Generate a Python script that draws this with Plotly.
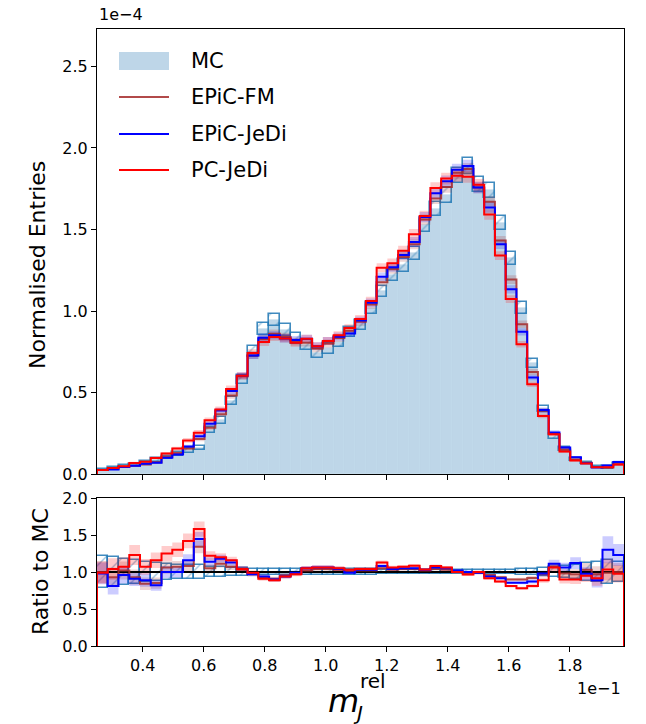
import plotly.graph_objects as go

# ---------------- data (values in units shown on the axes) ----------------
x_lo, x_hi, n_bins = 0.25, 1.978, 49          # x in units of 1e-1

mc = [0.025, 0.035, 0.045, 0.055, 0.07, 0.085, 0.10, 0.12, 0.145, 0.16,
      0.27, 0.33, 0.45, 0.58, 0.75, 0.89, 0.945, 0.885, 0.83, 0.79,
      0.74, 0.77, 0.81, 0.87, 0.915, 1.02, 1.12, 1.22, 1.28, 1.355,
      1.53, 1.625, 1.71, 1.83, 1.89, 1.775, 1.74, 1.54, 1.325, 1.02,
      0.68, 0.40, 0.23, 0.153, 0.092, 0.067, 0.045, 0.04, 0.06]

mc_rel_err = [0.21, 0.20, 0.17, 0.16, 0.13, 0.12, 0.11, 0.10, 0.095, 0.09,
              0.07, 0.065, 0.055, 0.05, 0.045, 0.04, 0.04, 0.04, 0.04, 0.04,
              0.04, 0.04, 0.04, 0.035, 0.035, 0.035, 0.03, 0.03, 0.03, 0.03,
              0.028, 0.027, 0.027, 0.026, 0.025, 0.026, 0.026, 0.028, 0.03, 0.035,
              0.04, 0.05, 0.065, 0.08, 0.10, 0.12, 0.14, 0.16, 0.13]

ratio_epic_fm = [1.0, 0.93, 1.02, 0.93, 0.84, 0.85, 1.06, 1.07, 1.08, 1.34,
                 1.05, 1.11, 1.07, 1.03, 0.97, 0.93, 0.91, 0.95, 0.98, 1.02,
                 1.04, 1.04, 1.03, 1.01, 1.02, 1.02, 1.05, 1.03, 1.04, 1.04,
                 1.02, 1.04, 1.03, 1.01, 0.99, 0.99, 0.96, 0.93, 0.90, 0.90,
                 0.92, 0.97, 1.07, 0.98, 0.97, 1.03, 0.97, 0.99, 1.0]

ratio_epic_jedi = [0.98, 0.81, 0.96, 0.91, 0.89, 0.82, 1.0, 1.0, 1.16, 1.445,
                   1.14, 1.18, 1.13, 1.04, 0.97, 0.94, 0.90, 0.94, 0.99, 1.05,
                   1.06, 1.06, 1.04, 0.99, 1.03, 1.03, 1.08, 1.04, 1.05, 1.05,
                   1.03, 1.06, 1.05, 1.02, 1.0, 0.99, 0.94, 0.915, 0.855, 0.855,
                   0.87, 0.98, 1.11, 1.06, 1.12, 0.975, 0.89, 1.30, 1.23]

ratio_pc_jedi = [0.99, 1.04, 1.07, 1.23, 1.07, 1.16, 1.25, 1.30, 1.42, 1.58,
                 1.22, 1.20, 1.16, 1.04, 0.99, 0.91, 0.89, 0.94, 0.97, 1.05,
                 1.06, 1.06, 1.05, 1.03, 1.04, 1.04, 1.13, 1.06, 1.07, 1.085,
                 1.035, 1.08, 1.06, 1.0, 0.965, 1.0, 0.915, 0.87, 0.81, 0.78,
                 0.81, 0.89, 1.06, 0.90, 0.90, 0.95, 0.915, 1.035, 0.975]

gen_rel_err = [0.15, 0.14, 0.12, 0.11, 0.10, 0.09, 0.08, 0.075, 0.07, 0.065,
               0.05, 0.045, 0.04, 0.035, 0.03, 0.03, 0.03, 0.03, 0.03, 0.03,
               0.03, 0.03, 0.03, 0.025, 0.025, 0.025, 0.022, 0.022, 0.022, 0.022,
               0.02, 0.02, 0.02, 0.02, 0.02, 0.02, 0.02, 0.02, 0.022, 0.025,
               0.03, 0.04, 0.05, 0.06, 0.07, 0.09, 0.11, 0.14, 0.12]

models = [("EPiC-FM", ratio_epic_fm, "rgba(165,42,42,0.85)", "rgba(165,42,42,0.2)"),
          ("EPiC-JeDi", ratio_epic_jedi, "#0000ff", "rgba(0,0,255,0.2)"),
          ("PC-JeDi", ratio_pc_jedi, "#ff0000", "rgba(255,0,0,0.2)")]

x_ticks = [0.4, 0.6, 0.8, 1.0, 1.2, 1.4, 1.6, 1.8]
y_ticks = [0.0, 0.5, 1.0, 1.5, 2.0, 2.5]
r_ticks = [0.0, 0.5, 1.0, 1.5, 2.0]

# ---------------- geometry helpers ----------------
W, H = 646, 724
ML, MR, MT, MB = 97, 22, 29, 78
PW, PH = W - ML - MR, H - MT - MB


def px(xp):
    return (xp - ML) / PW


def py(yp):
    return (H - MB - yp) / PH


bw = (x_hi - x_lo) / n_bins
edges = [x_lo + i * bw for i in range(n_bins + 1)]
centers = [x_lo + (i + 0.5) * bw for i in range(n_bins)]


def step_closed(vals):
    xs = [edges[0]] + edges + [edges[-1]]
    ys = [0] + list(vals) + [vals[-1], 0]
    return xs, ys


def step_open(vals):
    return edges, list(vals) + [vals[-1]]


fig = go.Figure()
FONT = "DejaVu Sans"
HATCH_C = "rgba(31,119,180,0.85)"
TICK_SIZE = 16

# ---- main panel ----
fig.add_trace(go.Bar(x=centers, y=mc, width=bw, xaxis="x", yaxis="y",
                     marker=dict(color="#bed6e8", line=dict(color="#bed6e8", width=0.6)),
                     showlegend=False, hoverinfo="skip"))
mc_err = [m * e for m, e in zip(mc, mc_rel_err)]
fig.add_trace(go.Bar(x=centers, y=[2 * e for e in mc_err],
                     base=[m - e for m, e in zip(mc, mc_err)], width=bw,
                     xaxis="x", yaxis="y",
                     marker=dict(color="rgba(0,0,0,0)", line=dict(color=HATCH_C, width=1.6),
                                 pattern=dict(shape="/", fgcolor=HATCH_C, bgcolor="rgba(0,0,0,0)",
                                              size=12, solidity=0.12, fillmode="overlay")),
                     showlegend=False, hoverinfo="skip"))

for name, ratio, lc, bc in models:
    vals = [m * r for m, r in zip(mc, ratio)]
    lo = [v * (1 - e) for v, e in zip(vals, gen_rel_err)]
    hi = [v * (1 + e) for v, e in zip(vals, gen_rel_err)]
    xs, ys = step_open(lo)
    fig.add_trace(go.Scatter(x=xs, y=ys, mode="lines", line=dict(width=0, shape="hv"),
                             xaxis="x", yaxis="y", showlegend=False, hoverinfo="skip"))
    xs, ys = step_open(hi)
    fig.add_trace(go.Scatter(x=xs, y=ys, mode="lines", line=dict(width=0, shape="hv"),
                             fill="tonexty", fillcolor=bc,
                             xaxis="x", yaxis="y", showlegend=False, hoverinfo="skip"))

for name, ratio, lc, bc in models:
    vals = [m * r for m, r in zip(mc, ratio)]
    xs, ys = step_closed(vals)
    fig.add_trace(go.Scatter(x=xs, y=ys, mode="lines", line=dict(color=lc, width=2, shape="hv"),
                             xaxis="x", yaxis="y", name=name, showlegend=False))

# ---- ratio panel ----
fig.add_trace(go.Bar(x=centers, y=[2 * e for e in mc_rel_err],
                     base=[1 - e for e in mc_rel_err], width=bw,
                     xaxis="x2", yaxis="y2",
                     marker=dict(color="rgba(0,0,0,0)", line=dict(color=HATCH_C, width=1.6),
                                 pattern=dict(shape="/", fgcolor=HATCH_C, bgcolor="rgba(0,0,0,0)",
                                              size=12, solidity=0.12, fillmode="overlay")),
                     showlegend=False, hoverinfo="skip"))

for name, ratio, lc, bc in models:
    lo = [r * (1 - e) for r, e in zip(ratio, gen_rel_err)]
    hi = [r * (1 + e) for r, e in zip(ratio, gen_rel_err)]
    xs, ys = step_open(lo)
    fig.add_trace(go.Scatter(x=xs, y=ys, mode="lines", line=dict(width=0, shape="hv"),
                             xaxis="x2", yaxis="y2", showlegend=False, hoverinfo="skip"))
    xs, ys = step_open(hi)
    fig.add_trace(go.Scatter(x=xs, y=ys, mode="lines", line=dict(width=0, shape="hv"),
                             fill="tonexty", fillcolor=bc,
                             xaxis="x2", yaxis="y2", showlegend=False, hoverinfo="skip"))

fig.add_trace(go.Scatter(x=[x_lo, x_hi], y=[1, 1], mode="lines",
                         line=dict(color="black", width=2), xaxis="x2", yaxis="y2",
                         showlegend=False, hoverinfo="skip"))

for name, ratio, lc, bc in models:
    xs, ys = step_closed(ratio)
    fig.add_trace(go.Scatter(x=xs, y=ys, mode="lines", line=dict(color=lc, width=2, shape="hv"),
                             xaxis="x2", yaxis="y2", showlegend=False))

# ---------------- axes ----------------
ax_common = dict(showline=True, linecolor="black", linewidth=1.2, mirror=True,
                 ticks="outside", ticklen=5, tickwidth=1.2, tickcolor="black",
                 showgrid=False, zeroline=False,
                 tickfont=dict(family=FONT, size=TICK_SIZE, color="black"))

main_bottom = py(474)
ratio_top = py(498)

fig.update_layout(
    width=W, height=H,
    margin=dict(l=ML, r=MR, t=MT, b=MB),
    paper_bgcolor="white", plot_bgcolor="white",
    barmode="overlay", bargap=0,
    showlegend=False,
    xaxis=dict(domain=[0, 1], anchor="y", range=[x_lo, x_hi], tickvals=x_ticks,
               showticklabels=False, **ax_common),
    yaxis=dict(domain=[main_bottom, 1], anchor="x", range=[0, 2.73], tickvals=y_ticks,
               tickformat=".1f", **ax_common),
    xaxis2=dict(domain=[0, 1], anchor="y2", range=[x_lo, x_hi], tickvals=x_ticks,
                tickformat=".1f", **ax_common),
    yaxis2=dict(domain=[0, ratio_top], anchor="x2", range=[0, 2.0], tickvals=r_ticks,
                tickformat=".1f", **ax_common),
)

# ---------------- annotations / texts ----------------
ann = []


def add_text(text, xp, yp, size, xanchor="center", yanchor="middle", angle=0):
    ann.append(dict(text=text, x=px(xp), y=py(yp), xref="paper", yref="paper",
                    xanchor=xanchor, yanchor=yanchor, showarrow=False, textangle=angle,
                    font=dict(family=FONT, size=size, color="black")))


add_text("1e\u22124", 97, 15, TICK_SIZE, xanchor="left")
add_text("1e\u22121", 623, 689, TICK_SIZE, xanchor="right")
add_text("Normalised Entries", 37, 265, 22, angle=-90)
add_text("Ratio to MC", 40, 572, 22, angle=-90)
add_text("<i>m</i>", 343, 701, 32)
add_text("rel", 373, 681, 20)
add_text("<i>J</i>", 358, 713, 20)

# legend (manual)
shapes = []
shapes.append(dict(type="rect", xref="paper", yref="paper",
                   x0=px(119), x1=px(169), y0=py(52), y1=py(70),
                   fillcolor="#bed6e8", line=dict(width=0)))
leg_lines = [(97, "rgba(165,42,42,0.85)"), (134, "#0000ff"), (170, "#ff0000")]
for yy, c in leg_lines:
    shapes.append(dict(type="line", xref="paper", yref="paper",
                       x0=px(119), x1=px(169), y0=py(yy), y1=py(yy),
                       line=dict(color=c, width=2)))
for txt, yy in [("MC", 61), ("EPiC-FM", 97), ("EPiC-JeDi", 134), ("PC-JeDi", 170)]:
    add_text(txt, 189, yy, 21, xanchor="left")

fig.update_layout(annotations=ann, shapes=shapes)

fig.write_html("out.html", config={"displayModeBar": False},
               post_script="document.body.style.margin='0';document.body.style.overflow='hidden';")
